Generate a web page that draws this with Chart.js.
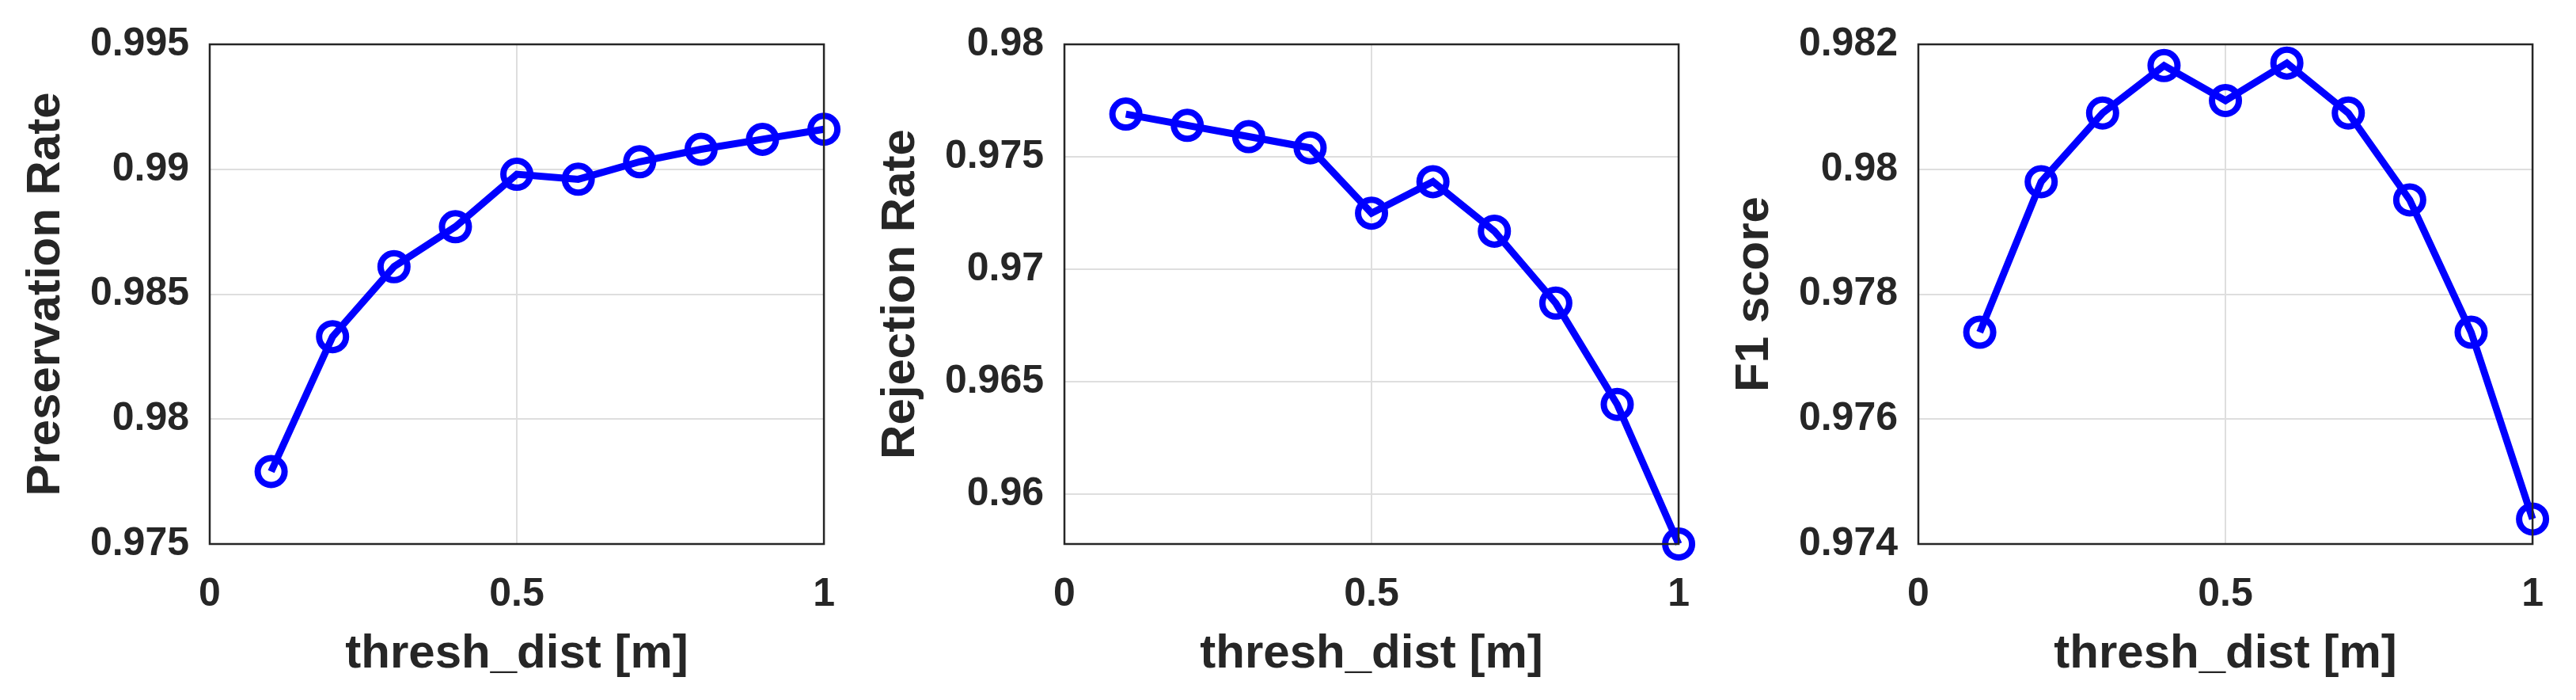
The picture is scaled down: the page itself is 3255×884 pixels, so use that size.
<!DOCTYPE html>
<html>
<head>
<meta charset="utf-8">
<script src="https://cdn.jsdelivr.net/npm/chart.js@4.4.0/dist/chart.umd.min.js"></script>
<style>
  body { margin:0; background:#fff; width:3255px; height:884px; position:relative; overflow:hidden; }
  .box { position:absolute; top:0; width:1089px; height:884px; }
</style>
</head>
<body>
<div class="box" style="left:0px"><canvas id="c1"></canvas></div>
<div class="box" style="left:1080px"><canvas id="c2"></canvas></div>
<div class="box" style="left:2159px"><canvas id="c3"></canvas></div>
<script>
const threshDist = [0.1, 0.2, 0.3, 0.4, 0.5, 0.6, 0.7, 0.8, 0.9, 1.0];
const preservation = [0.9779, 0.9833, 0.9861, 0.9877, 0.9898, 0.9896, 0.9903, 0.9908, 0.9912, 0.9916];
const rejection = [0.9769, 0.9764, 0.9759, 0.9754, 0.9725, 0.9739, 0.9717, 0.9685, 0.9640, 0.9578];
const f1score = [0.97739, 0.97980, 0.98090, 0.98166, 0.98110, 0.98170, 0.98090, 0.97951, 0.97739, 0.97440];
const xTicks = [0, 0.5, 1];
const yTicks1 = [0.975, 0.98, 0.985, 0.99, 0.995];
const yTicks2 = [0.96, 0.965, 0.97, 0.975, 0.98];
const yTicks3 = [0.974, 0.976, 0.978, 0.98, 0.982];

const textColor = '#262626';
const font = 'Liberation Sans, Arial, sans-serif';

const boxPlugin = {
  id: 'box',
  afterDraw(chart) {
    const a = chart.chartArea, ctx = chart.ctx;
    ctx.save();
    ctx.strokeStyle = textColor;
    ctx.lineWidth = 2.5;
    ctx.strokeRect(a.left, a.top, a.right - a.left, a.bottom - a.top);
    ctx.restore();
  }
};

const makeChart = (id, values, yTicks, yMin, yMax, yLabel) => {
  const options = {
    type: 'line',
    data: {
      datasets: [{
        data: threshDist.map((x, i) => ({ x: x, y: values[i] })),
        borderColor: '#0000ff',
        borderWidth: 9,
        pointRadius: 17,
        pointBorderWidth: 8,
        pointBackgroundColor: 'rgba(0,0,0,0)',
        pointBorderColor: '#0000ff',
        clip: false
      }]
    },
    options: {
      responsive: false,
      animation: false,
      layout: { padding: { top: 48, right: 40, left: 0, bottom: 0 } },
      plugins: { legend: { display: false }, tooltip: { enabled: false } },
      scales: {
        x: {
          type: 'linear', min: 0, max: 1,
          afterBuildTicks: s => { s.ticks = xTicks.map(v => ({ value: v })); },
          afterFit: s => { s.height = 197; },
          grid: { color: '#dedede', lineWidth: 2, drawTicks: false },
          border: { display: false },
          ticks: { color: textColor, font: { family: font, size: 50, weight: 'bold' }, padding: 34,
                   maxRotation: 0, callback: v => String(v) },
          title: { display: true, text: 'thresh_dist [m]', color: textColor,
                   font: { family: font, size: 60, weight: 'bold' }, padding: { top: 0, bottom: 22 } }
        },
        y: {
          type: 'linear', min: yMin, max: yMax,
          afterBuildTicks: s => { s.ticks = yTicks.map(v => ({ value: v })); },
          afterFit: s => { s.width = 265; },
          grid: { color: '#dedede', lineWidth: 2, drawTicks: false },
          border: { display: false },
          ticks: { color: textColor, font: { family: font, size: 50, weight: 'bold' }, padding: 26,
                   callback: v => String(v) },
          title: { display: true, text: yLabel, color: textColor,
                   font: { family: font, size: 60, weight: 'bold' }, padding: { top: 22, bottom: 0 } }
        }
      }
    },
    plugins: [boxPlugin]
  };
  const canvas = document.getElementById(id);
  canvas.width = 1089;
  canvas.height = 884;
  new Chart(canvas.getContext('2d'), options);
};

makeChart('c1', preservation, yTicks1, 0.975, 0.995, 'Preservation Rate');
makeChart('c2', rejection, yTicks2, 0.9578, 0.98, 'Rejection Rate');
makeChart('c3', f1score, yTicks3, 0.974, 0.982, 'F1 score');
</script>
</body>
</html>
